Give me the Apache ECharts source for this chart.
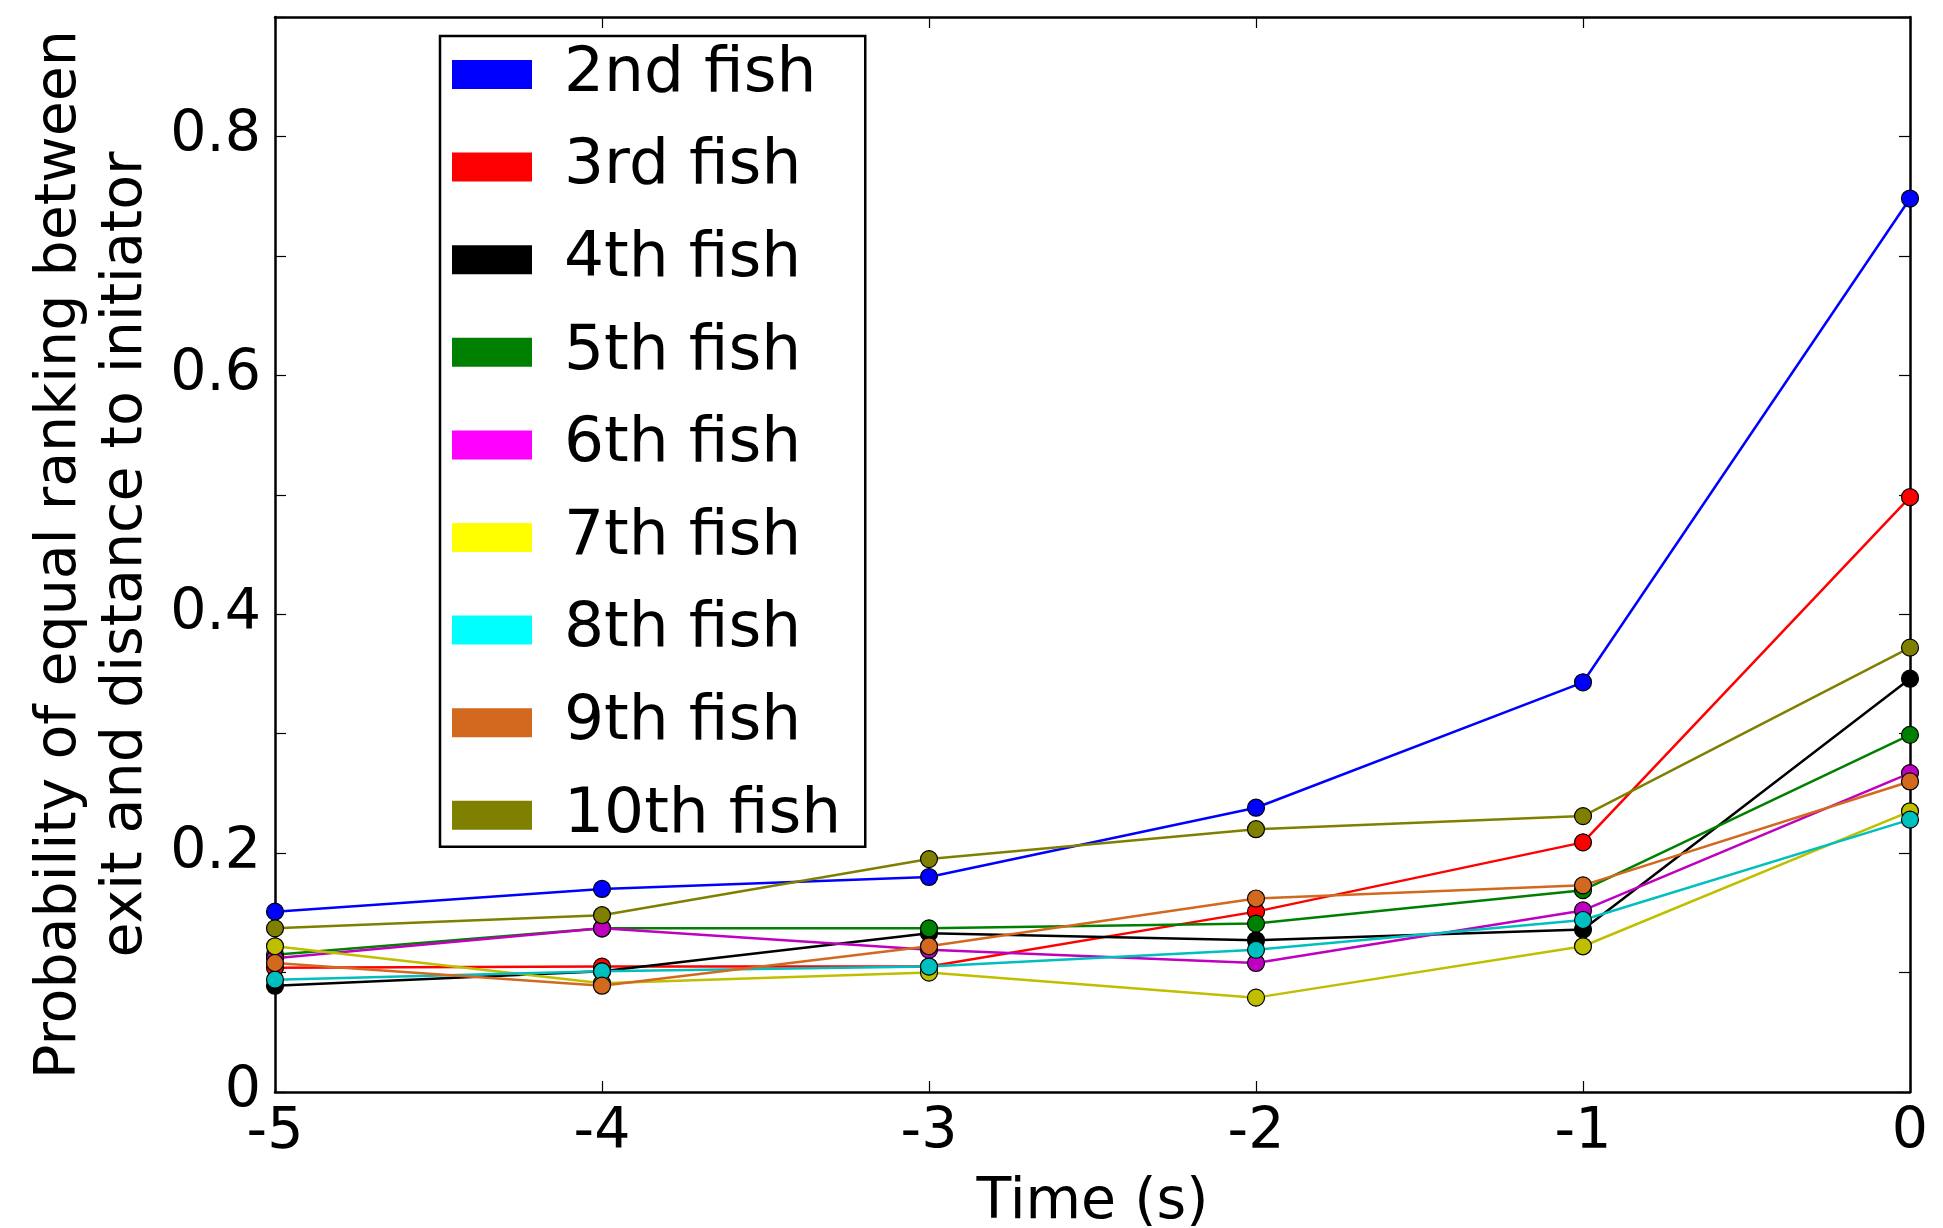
<!DOCTYPE html>
<html>
<head>
<meta charset="utf-8">
<script src="https://cdn.jsdelivr.net/npm/echarts@6/dist/echarts.min.js"></script>
<style>
  html, body { margin: 0; padding: 0; background: #fff; }
  #chart { width: 1943px; height: 1228px; }
</style>
</head>
<body>
<div id="chart"></div>
<script>
// Time before the exit (s)
const times = [-5, -4, -3, -2, -1, 0];

// Probability of equal ranking, one list per fish rank
const fish2  = [0.151, 0.170, 0.180, 0.238, 0.343, 0.748];
const fish3  = [0.104, 0.105, 0.105, 0.151, 0.209, 0.498];
const fish4  = [0.089, 0.101, 0.133, 0.127, 0.136, 0.346];
const fish5  = [0.115, 0.137, 0.137, 0.141, 0.169, 0.299];
const fish6  = [0.112, 0.137, 0.119, 0.108, 0.152, 0.267];
const fish7  = [0.122, 0.091, 0.100, 0.079, 0.122, 0.235];
const fish8  = [0.094, 0.101, 0.105, 0.119, 0.144, 0.228];
const fish9  = [0.108, 0.089, 0.122, 0.162, 0.173, 0.260];
const fish10 = [0.137, 0.148, 0.195, 0.220, 0.231, 0.372];

const seriesNames = ['2nd fish', '3rd fish', '4th fish', '5th fish', '6th fish',
                     '7th fish', '8th fish', '9th fish', '10th fish'];
const seriesValues = [fish2, fish3, fish4, fish5, fish6, fish7, fish8, fish9, fish10];

// y tick labels shown every 0.2
const yTickLabels = ['0', '0.2', '0.4', '0.6', '0.8'];

const lineColors   = ['#0000ff', '#ff0000', '#000000', '#008000', '#bf00bf',
                      '#bfbf00', '#00bfbf', '#d2691e', '#808000'];
const legendColors = ['#0000ff', '#ff0000', '#000000', '#008000', '#ff00ff',
                      '#ffff00', '#00ffff', '#d2691e', '#808000'];

const FONT = 'DejaVu Sans';

const series = seriesNames.map((name, i) => ({
  name: name,
  type: 'line',
  xAxisIndex: 0,
  yAxisIndex: 0,
  data: times.map((t, j) => [t, seriesValues[i][j]]),
  symbol: 'circle',
  symbolSize: 17,
  showSymbol: true,
  clip: true,
  lineStyle: { color: lineColors[i], width: 2.5 },
  itemStyle: { color: lineColors[i], borderColor: '#000', borderWidth: 1.2 },
  emphasis: { disabled: true },
  animation: false
}));

const yLabelFormatter = v => {
  const k = Math.round(v * 10);
  if (k % 2 !== 0) return '';
  return yTickLabels[k / 2] || '';
};

const axisLineStyle = { show: true, onZero: false, lineStyle: { color: '#000', width: 2.5 } };
const tickStyle = { show: true, inside: true, length: 11, lineStyle: { color: '#000', width: 1.2 } };

const chart = echarts.init(document.getElementById('chart'), null, { renderer: 'canvas' });
chart.setOption({
  backgroundColor: '#fff',
  animation: false,
  textStyle: { fontFamily: FONT },
  grid: { left: 275, right: 33, top: 17, bottom: 136, containLabel: false, outerBoundsMode: 'none' },
  legend: {
    orient: 'vertical',
    left: 440,
    top: 36,
    padding: [7, 24, 0, 12],
    itemGap: 29.6,
    itemWidth: 80,
    itemHeight: 29,
    borderColor: '#000',
    borderWidth: 2.5,
    backgroundColor: '#fff',
    selectedMode: false,
    textStyle: { fontFamily: FONT, fontSize: 63, color: '#000', lineHeight: 63, padding: [0, 0, 0, 27] },
    data: seriesNames.map((n, i) => ({ name: n, icon: 'rect', itemStyle: { color: legendColors[i], borderWidth: 0 } }))
  },
  xAxis: [
    {
      type: 'value', min: -5, max: 0, interval: 1, position: 'bottom',
      name: 'Time (s)', nameLocation: 'middle', nameGap: 83,
      nameTextStyle: { fontFamily: FONT, fontSize: 57, color: '#000' },
      axisLine: axisLineStyle, axisTick: tickStyle,
      axisLabel: { fontFamily: FONT, fontSize: 57, color: '#000', margin: 13 },
      splitLine: { show: false }
    },
    {
      type: 'value', min: -5, max: 0, interval: 1, position: 'top',
      axisLine: axisLineStyle, axisTick: tickStyle,
      axisLabel: { show: false }, splitLine: { show: false }
    }
  ],
  yAxis: [
    {
      type: 'value', min: 0, max: 0.9, interval: 0.1, position: 'left',
      name: 'Probability of equal ranking between\nexit and distance to initiator',
      nameLocation: 'middle', nameGap: 108, nameRotate: 90,
      nameTextStyle: { fontFamily: FONT, fontSize: 57, color: '#000', lineHeight: 66 },
      axisLine: axisLineStyle, axisTick: tickStyle,
      axisLabel: { fontFamily: FONT, fontSize: 57, color: '#000', margin: 14, formatter: yLabelFormatter },
      splitLine: { show: false }
    },
    {
      type: 'value', min: 0, max: 0.9, interval: 0.1, position: 'right',
      axisLine: axisLineStyle, axisTick: tickStyle,
      axisLabel: { show: false }, splitLine: { show: false }
    }
  ],
  series: series
});
</script>
</body>
</html>
